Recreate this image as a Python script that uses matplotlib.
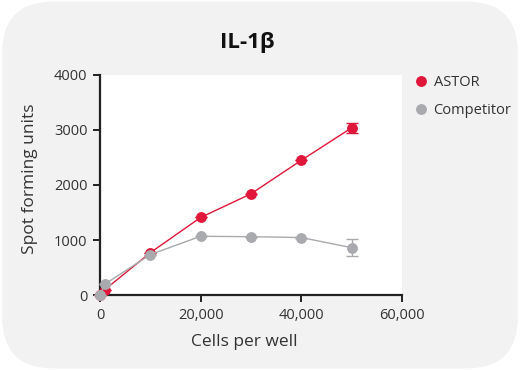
import numpy as np
from matplotlib import pyplot as plt
from matplotlib import patches

# data
cells = [0, 1000, 10000, 20000, 30000, 40000, 50000]
astor = [0, 100, 770, 1410, 1840, 2450, 3040]
astor_err = [0, 0, 0, 0, 0, 0, 90]
competitor = [0, 200, 735, 1068, 1060, 1045, 860]
competitor_err = [0, 0, 0, 0, 0, 0, 150]
xticks = [0, 20000, 40000, 60000]
xtick_labels = ['0', '20,000', '40,000', '60,000']
yticks = [0, 1000, 2000, 3000, 4000]

red = '#e0173b'
grey = '#a9aaad'
dark = '#222222'

plt.rcParams['font.family'] = ['Open Sans', 'DejaVu Sans']

fig = plt.figure(figsize=(5.2, 3.7), dpi=100)
fig.patch.set_facecolor('white')
# rounded grey card behind everything
card = patches.FancyBboxPatch((0.004, 0.004), 0.992, 0.992,
                              boxstyle='round,pad=0,rounding_size=0.1',
                              transform=fig.transFigure, facecolor='#f2f2f2',
                              edgecolor='none', zorder=-5,
                              mutation_aspect=5.2/3.7)
fig.patches.append(card)

ax = fig.add_axes([0.1923, 0.2027, 0.5808, 0.5946])
ax.set_zorder(1)
ax.set_facecolor('white')

ax.errorbar(cells, astor, yerr=astor_err, color=red, marker='o', markersize=6.8,
            linewidth=1.0, elinewidth=1.0, capsize=4, capthick=1.0,
            label='ASTOR', clip_on=False, zorder=3)
ax.errorbar(cells, competitor, yerr=competitor_err, color=grey, marker='o',
            markersize=6.8, linewidth=1.0, elinewidth=1.0, capsize=4,
            capthick=1.0, label='Competitor', clip_on=False, zorder=4)

ax.set_xlim(0, 60000)
ax.set_ylim(0, 4000)
ax.set_xticks(xticks)
ax.set_xticklabels(xtick_labels)
ax.set_yticks(yticks)

for side in ['top', 'right']:
    ax.spines[side].set_visible(False)
for side in ['left', 'bottom']:
    ax.spines[side].set_color(dark)
    ax.spines[side].set_linewidth(1.6)
ax.tick_params(axis='both', direction='out', length=5, width=1.4, color=dark,
               labelsize=10.5, labelcolor='#333333', pad=4)

ax.set_xlabel('Cells per well', fontsize=12.5, color='#333333')
ax.set_ylabel('Spot forming units', fontsize=12.5, color='#333333')
ax.xaxis.set_label_coords(0.478, -0.214)
ax.yaxis.set_label_coords(-0.232, 0.527)
ax.xaxis.label.set_va('center')
ax.yaxis.label.set_va('center')
fig.text(0.475, 0.885, 'IL-1β', fontsize=16, fontweight='bold',
         ha='center', va='center', color='#111111')

handles, labels = ax.get_legend_handles_labels()
handles = [h[0] for h in handles]
leg = fig.legend(handles, labels, loc='upper left', bbox_to_anchor=(0.775, 0.832),
                 frameon=False, fontsize=10.5, handlelength=0.6,
                 handletextpad=0.6, labelspacing=0.85, markerscale=1.0)
for h in leg.legend_handles:
    h.set_linestyle('none')
for t in leg.get_texts():
    t.set_color('#333333')

fig.savefig('out.png', dpi=100)
